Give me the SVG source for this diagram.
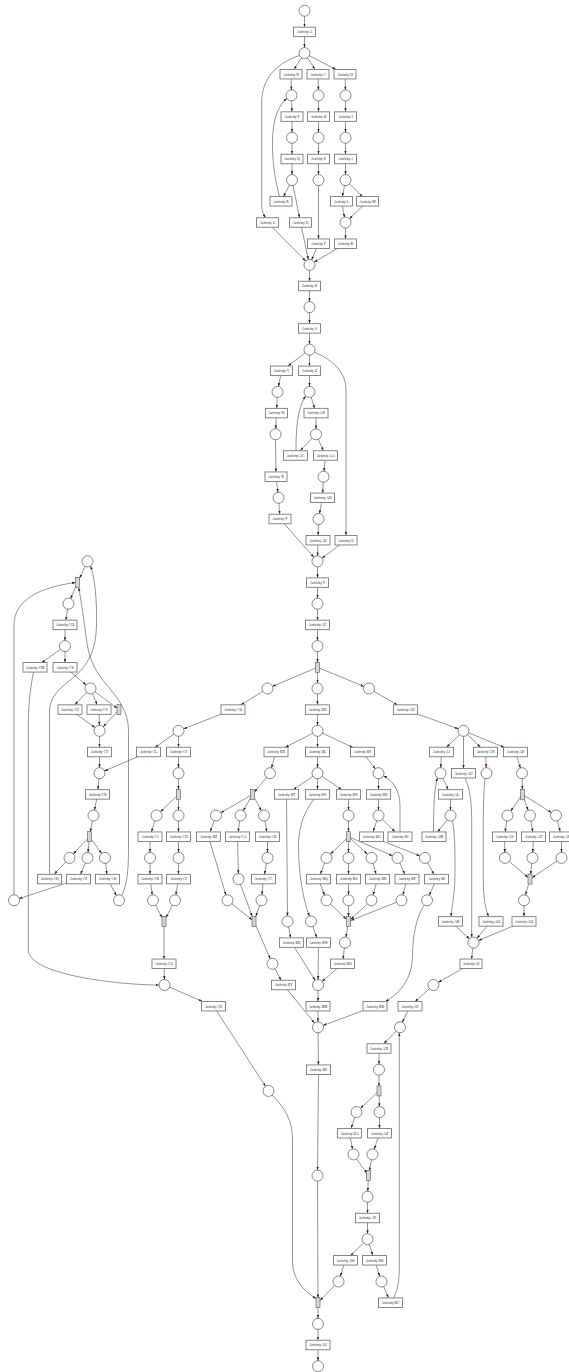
<svg xmlns="http://www.w3.org/2000/svg" width="569" height="1372" viewBox="0 0 569 1372">
<defs>
<style>
.e{fill:none;stroke:#4d4d4d;stroke-width:0.6}
.c{marker-end:url(#mc)}.b{marker-end:url(#mb)}.b5{marker-end:url(#mb5)}.b6{marker-end:url(#mb6)}.b7{marker-end:url(#mb7)}.b8{marker-end:url(#mb8)}.b9{marker-end:url(#mb9)}.b10{marker-end:url(#mb10)}.b12{marker-end:url(#mb12)}.r{marker-end:url(#mr)}.r3{marker-end:url(#mr3)}.r4{marker-end:url(#mr4)}.z{marker-end:url(#m0)}
.pl{fill:#fff;stroke:#3a3a3a;stroke-width:0.6}
.tr{fill:#fff;stroke:#7a7a7a;stroke-width:0.9}
.br{fill:#d6d6d6;stroke:#555;stroke-width:0.6}
.lb{font-family:"Liberation Serif","Times New Roman",serif;font-size:3.7px;fill:#222;text-anchor:middle}
.ah{fill:#222}
</style>
<marker id="mc" viewBox="0 0 10 10" refX="26.2" refY="5" markerWidth="3.4" markerHeight="3.4" markerUnits="userSpaceOnUse" orient="auto"><path class="ah" d="M0,1.5L10,5L0,8.5z"/></marker>
<marker id="mb" viewBox="0 0 10 10" refX="24.4" refY="5" markerWidth="3.4" markerHeight="3.4" markerUnits="userSpaceOnUse" orient="auto"><path class="ah" d="M0,1.5L10,5L0,8.5z"/></marker>
<marker id="mb5" viewBox="0 0 10 10" refX="25.9" refY="5" markerWidth="3.4" markerHeight="3.4" markerUnits="userSpaceOnUse" orient="auto"><path class="ah" d="M0,1.5L10,5L0,8.5z"/></marker>
<marker id="mb6" viewBox="0 0 10 10" refX="27.6" refY="5" markerWidth="3.4" markerHeight="3.4" markerUnits="userSpaceOnUse" orient="auto"><path class="ah" d="M0,1.5L10,5L0,8.5z"/></marker>
<marker id="mb7" viewBox="0 0 10 10" refX="30.6" refY="5" markerWidth="3.4" markerHeight="3.4" markerUnits="userSpaceOnUse" orient="auto"><path class="ah" d="M0,1.5L10,5L0,8.5z"/></marker>
<marker id="mb8" viewBox="0 0 10 10" refX="34.1" refY="5" markerWidth="3.4" markerHeight="3.4" markerUnits="userSpaceOnUse" orient="auto"><path class="ah" d="M0,1.5L10,5L0,8.5z"/></marker>
<marker id="mb9" viewBox="0 0 10 10" refX="37.1" refY="5" markerWidth="3.4" markerHeight="3.4" markerUnits="userSpaceOnUse" orient="auto"><path class="ah" d="M0,1.5L10,5L0,8.5z"/></marker>
<marker id="mb10" viewBox="0 0 10 10" refX="40.9" refY="5" markerWidth="3.4" markerHeight="3.4" markerUnits="userSpaceOnUse" orient="auto"><path class="ah" d="M0,1.5L10,5L0,8.5z"/></marker>
<marker id="mb12" viewBox="0 0 10 10" refX="45.9" refY="5" markerWidth="3.4" markerHeight="3.4" markerUnits="userSpaceOnUse" orient="auto"><path class="ah" d="M0,1.5L10,5L0,8.5z"/></marker>
<marker id="mr" viewBox="0 0 10 10" refX="17.4" refY="5" markerWidth="3.4" markerHeight="3.4" markerUnits="userSpaceOnUse" orient="auto"><path class="ah" d="M0,1.5L10,5L0,8.5z"/></marker>
<marker id="mr3" viewBox="0 0 10 10" refX="18.8" refY="5" markerWidth="3.4" markerHeight="3.4" markerUnits="userSpaceOnUse" orient="auto"><path class="ah" d="M0,1.5L10,5L0,8.5z"/></marker>
<marker id="mr4" viewBox="0 0 10 10" refX="22.6" refY="5" markerWidth="3.4" markerHeight="3.4" markerUnits="userSpaceOnUse" orient="auto"><path class="ah" d="M0,1.5L10,5L0,8.5z"/></marker>
<marker id="m0" viewBox="0 0 10 10" refX="10" refY="5" markerWidth="3.4" markerHeight="3.4" markerUnits="userSpaceOnUse" orient="auto"><path class="ah" d="M0,1.5L10,5L0,8.5z"/></marker>
</defs>
<rect width="569" height="1372" fill="#fff"/>
<g id="connectors">
<path class="e b" d="M304.5,10.7L304.5,31.9"/>
<path class="e c" d="M304.5,31.9L304.5,53.1"/>
<path class="e b6" d="M304.5,53.1L291,74.2"/>
<path class="e b6" d="M304.5,53.1L318,74.2"/>
<path class="e b10" d="M304.5,53.1L345,74.2"/>
<path class="e z" d="M299.5,55.5C280,62 263,75 261.7,100L261.7,205C261.7,211 263.5,214.5 265.5,217.7"/>
<path class="e c" d="M291,74.2L291.5,95.4"/>
<path class="e c" d="M318,74.2L318.5,95.4"/>
<path class="e c" d="M345,74.2L345.5,95.4"/>
<path class="e b" d="M291.5,95.4L292,116.6"/>
<path class="e b" d="M318.5,95.4L318.5,116.6"/>
<path class="e b" d="M345.5,95.4L345.5,116.6"/>
<path class="e c" d="M292,116.6L292,137.8"/>
<path class="e c" d="M318.5,116.6L318.5,137.8"/>
<path class="e c" d="M345.5,116.6L345.5,137.8"/>
<path class="e b" d="M292,137.8L292,159"/>
<path class="e b" d="M318.5,137.8L318.5,159"/>
<path class="e b" d="M345.5,137.8L345.5,159"/>
<path class="e c" d="M292,159L292,180.1"/>
<path class="e c" d="M318.5,159L318.5,180.1"/>
<path class="e c" d="M345.5,159L345.5,180.1"/>
<path class="e b5" d="M292,180.1L281,201.3"/>
<path class="e b" d="M292,180.1L300.5,222.5"/>
<path class="e z" d="M279.5,196.5C275,180 272,160 272.5,140C273,120 278,105 287,98.5"/>
<path class="e b" d="M318.5,180.1L318.5,243.7"/>
<path class="e b" d="M345.5,180.1L341.5,201.3"/>
<path class="e b7" d="M345.5,180.1L367.5,201.3"/>
<path class="e c" d="M341.5,201.3L345.5,222.5"/>
<path class="e c" d="M367.5,201.3L345.5,222.5"/>
<path class="e b" d="M345.5,222.5L345.5,243.7"/>
<path class="e c" d="M267.5,222.5L309.5,264.9"/>
<path class="e c" d="M300.5,222.5L309.5,264.9"/>
<path class="e c" d="M318.5,243.7L309.5,264.9"/>
<path class="e c" d="M345.5,243.7L309.5,264.9"/>
<path class="e b" d="M309.5,264.9L309.5,286"/>
<path class="e c" d="M309.5,286L309.5,307.2"/>
<path class="e b" d="M309.5,307.2L309.5,328.4"/>
<path class="e c" d="M309.5,328.4L309.5,349.6"/>
<path class="e b8" d="M309.5,349.6L281.5,370.8"/>
<path class="e b" d="M309.5,349.6L309.5,370.8"/>
<path class="e z" d="M314.5,352C330,359 346,370 346,390L346,535.4"/>
<path class="e c" d="M281.5,370.8L277.5,391.9"/>
<path class="e c" d="M309.5,370.8L309.5,391.9"/>
<path class="e b" d="M277.5,391.9L276.5,413.1"/>
<path class="e b" d="M309.5,391.9L316,413.1"/>
<path class="e c" d="M276.5,413.1L275.5,434.3"/>
<path class="e c" d="M316,413.1L316,434.3"/>
<path class="e b7" d="M316,434.3L295.5,455.5"/>
<path class="e b5" d="M316,434.3L325.5,455.5"/>
<path class="e z" d="M296,450.7C296,430 297,410 305.5,396"/>
<path class="e b" d="M275.5,434.3L276,476.7"/>
<path class="e c" d="M325.5,455.5L323.5,476.7"/>
<path class="e c" d="M276,476.7L278.5,497.8"/>
<path class="e b" d="M323.5,476.7L322.5,497.8"/>
<path class="e b" d="M278.5,497.8L280,519"/>
<path class="e c" d="M322.5,497.8L318.5,519"/>
<path class="e b" d="M318.5,519L318,540.2"/>
<path class="e c" d="M280,519L317.5,561.4"/>
<path class="e c" d="M318,540.2L317.5,561.4"/>
<path class="e c" d="M346,540.2L317.5,561.4"/>
<path class="e b" d="M317.5,561.4L317.5,582.6"/>
<path class="e c" d="M317.5,582.6L317.5,603.7"/>
<path class="e b" d="M317.5,603.7L317.5,624.9"/>
<path class="e c" d="M317.5,624.9L317.5,646.1"/>
<path class="e b" d="M317.5,646.1L317.5,667.3"/>
<path class="e c" d="M317.5,667.3L267.5,688.5"/>
<path class="e c" d="M317.5,667.3L317.5,688.5"/>
<path class="e c" d="M317.5,667.3L369,688.5"/>
<path class="e b9" d="M267.5,688.5L233,709.6"/>
<path class="e b" d="M317.5,688.5L317.5,709.6"/>
<path class="e b9" d="M369,688.5L405.5,709.6"/>
<path class="e c" d="M233,709.6L178.5,730.8"/>
<path class="e c" d="M317.5,709.6L317.5,730.8"/>
<path class="e c" d="M405.5,709.6L463.5,730.8"/>
<path class="e b" d="M87.5,561.4L77.5,582.6"/>
<path class="e c" d="M77.5,582.6L68.5,603.7"/>
<path class="e b" d="M68.5,603.7L65,624.9"/>
<path class="e c" d="M65,624.9L65,646.1"/>
<path class="e b8" d="M65,646.1L35,667.3"/>
<path class="e b" d="M65,646.1L65,667.3"/>
<path class="e c" d="M65,667.3L90.5,688.5"/>
<path class="e b7" d="M90.5,688.5L70,709.6"/>
<path class="e b5" d="M90.5,688.5L99,709.6"/>
<path class="e r" d="M90.5,688.5L119,709.6"/>
<path class="e c" d="M70,709.6L99.5,730.8"/>
<path class="e c" d="M99,709.6L99.5,730.8"/>
<path class="e c" d="M119,709.6L99.5,730.8"/>
<path class="e b" d="M99.5,730.8L99.5,752"/>
<path class="e c" d="M99.5,752L99.5,773.2"/>
<path class="e b" d="M99.5,773.2L97.5,794.4"/>
<path class="e c" d="M97.5,794.4L93.5,815.5"/>
<path class="e b" d="M93.5,815.5L89.5,836.7"/>
<path class="e c" d="M89.5,836.7L69.5,857.9"/>
<path class="e c" d="M89.5,836.7L87.5,857.9"/>
<path class="e c" d="M89.5,836.7L105,857.9"/>
<path class="e b7" d="M69.5,857.9L49.5,879.1"/>
<path class="e b5" d="M87.5,857.9L78.5,879.1"/>
<path class="e b" d="M105,857.9L107.5,879.1"/>
<path class="e c" d="M78.5,879.1L14,900.3"/>
<path class="e c" d="M107.5,879.1L119,900.3"/>
<path class="e z" d="M49.5,874.3L49.5,712C49.5,695 62,687 75,676C88,665 96,650 96.5,625C97,600 95,578 90.5,566"/>
<path class="e z" d="M122,895C127,885 128.5,870 128.5,850L128.5,730C128.5,712 118,698 106,684C96,672 89,660 86.5,640C84,620 81,600 78.7,587.6"/>
<path class="e z" d="M14,894.8L14,625C14,600 40,587 75.5,582.6"/>
<path class="e z" d="M33.5,672C30,690 28.3,705 28.3,730L28.3,950C28.3,975 120,985 159,985"/>
<path class="e b8" d="M178.5,730.8L148.5,752"/>
<path class="e b" d="M178.5,730.8L178.5,752"/>
<path class="e c" d="M148.5,752L99.5,773.2"/>
<path class="e c" d="M178.5,752L178.5,773.2"/>
<path class="e b" d="M178.5,773.2L178.5,794.4"/>
<path class="e c" d="M178.5,794.4L156.5,815.5"/>
<path class="e c" d="M178.5,794.4L178.5,815.5"/>
<path class="e b" d="M156.5,815.5L150,836.7"/>
<path class="e b" d="M178.5,815.5L178.5,836.7"/>
<path class="e c" d="M150,836.7L150,857.9"/>
<path class="e c" d="M178.5,836.7L178.5,857.9"/>
<path class="e b" d="M150,857.9L150,879.1"/>
<path class="e b" d="M178.5,857.9L178.5,879.1"/>
<path class="e c" d="M150,879.1L153,900.3"/>
<path class="e c" d="M178.5,879.1L175,900.3"/>
<path class="e r4" d="M153,900.3L164,921.4"/>
<path class="e r4" d="M175,900.3L164,921.4"/>
<path class="e b" d="M164,921.4L164,963.8"/>
<path class="e c" d="M164,963.8L164.5,985"/>
<path class="e b12" d="M164.5,985L213.5,1006.2"/>
<path class="e c" d="M213.5,1006.2L268.5,1090.9"/>
<path class="e z" d="M272,1095C285,1108 292.5,1120 292.5,1140L292.5,1262C292.5,1280 305,1292 316,1298.5"/>
<path class="e b10" d="M317.5,730.8L276,752"/>
<path class="e b" d="M317.5,730.8L317.5,752"/>
<path class="e b10" d="M317.5,730.8L362.5,752"/>
<path class="e c" d="M276,752L270,773.2"/>
<path class="e c" d="M317.5,752L317.5,773.2"/>
<path class="e c" d="M362.5,752L378.5,773.2"/>
<path class="e r3" d="M270,773.2L252.5,794.4"/>
<path class="e c" d="M252.5,794.4L216,815.5"/>
<path class="e c" d="M252.5,794.4L240.5,815.5"/>
<path class="e c" d="M252.5,794.4L264,815.5"/>
<path class="e b5" d="M216,815.5L208.5,836.7"/>
<path class="e b" d="M240.5,815.5L237.5,836.7"/>
<path class="e b" d="M264,815.5L267.5,836.7"/>
<path class="e c" d="M208.5,836.7L227.5,900.3"/>
<path class="e c" d="M237.5,836.7L238.5,879.1"/>
<path class="e c" d="M267.5,836.7L267.5,857.9"/>
<path class="e b" d="M267.5,857.9L263.5,879.1"/>
<path class="e c" d="M263.5,879.1L261.5,900.3"/>
<path class="e r" d="M227.5,900.3L254,921.4"/>
<path class="e b5" d="M238.5,879.1L254,921.4"/>
<path class="e b5" d="M261.5,900.3L254,921.4"/>
<path class="e c" d="M254,921.4L272.5,963.8"/>
<path class="e b5" d="M272.5,963.8L283.5,985"/>
<path class="e c" d="M283.5,985L318,1027.3"/>
<path class="e b8" d="M317.5,773.2L286.5,794.4"/>
<path class="e b" d="M317.5,773.2L317.5,794.4"/>
<path class="e b8" d="M317.5,773.2L348.5,794.4"/>
<path class="e c" d="M286.5,794.4L287.5,921.4"/>
<path class="e z" d="M314,799C302,815 298,830 298.5,850C299,875 303,900 309.5,916.1"/>
<path class="e b" d="M378.5,773.2L378.5,794.4"/>
<path class="e c" d="M378.5,794.4L378.5,815.5"/>
<path class="e b5" d="M378.5,815.5L371.5,836.7"/>
<path class="e b7" d="M378.5,815.5L400,836.7"/>
<path class="e z" d="M400,832L400,805C400,790 392,780 383.5,776"/>
<path class="e c" d="M371.5,836.7L425,857.9"/>
<path class="e c" d="M348.5,794.4L348.5,815.5"/>
<path class="e b" d="M348.5,815.5L348.5,836.7"/>
<path class="e c" d="M348.5,836.7L326.5,857.9"/>
<path class="e c" d="M348.5,836.7L348.5,857.9"/>
<path class="e c" d="M348.5,836.7L371.5,857.9"/>
<path class="e c" d="M348.5,836.7L397.5,857.9"/>
<path class="e b5" d="M326.5,857.9L318.5,879.1"/>
<path class="e b" d="M348.5,857.9L348.5,879.1"/>
<path class="e b5" d="M371.5,857.9L377.5,879.1"/>
<path class="e b5" d="M397.5,857.9L407,879.1"/>
<path class="e b5" d="M425,857.9L436.5,879.1"/>
<path class="e c" d="M318.5,879.1L326.5,900.3"/>
<path class="e c" d="M348.5,879.1L348.5,900.3"/>
<path class="e c" d="M377.5,879.1L371.5,900.3"/>
<path class="e c" d="M407,879.1L401.5,900.3"/>
<path class="e c" d="M436.5,879.1L427,900.3"/>
<path class="e r3" d="M326.5,900.3L348.5,921.4"/>
<path class="e b" d="M348.5,900.3L348.5,921.4"/>
<path class="e r3" d="M371.5,900.3L348.5,921.4"/>
<path class="e r" d="M401.5,900.3L348.5,921.4"/>
<path class="e c" d="M348.5,921.4L345,942.6"/>
<path class="e b" d="M345,942.6L342.5,963.8"/>
<path class="e c" d="M342.5,963.8L318,985"/>
<path class="e b" d="M287.5,921.4L291.5,942.6"/>
<path class="e b5" d="M311,921.4L318.5,942.6"/>
<path class="e c" d="M291.5,942.6L318,985"/>
<path class="e c" d="M318.5,942.6L318,985"/>
<path class="e b" d="M318,985L318,1006.2"/>
<path class="e c" d="M318,1006.2L318,1027.3"/>
<path class="e z" d="M424,905.5C418,915 413,930 412.5,955C412,980 400,993 385.5,1001.4"/>
<path class="e c" d="M375,1006.2L318,1027.3"/>
<path class="e b" d="M318,1027.3L318.5,1069.7"/>
<path class="e c" d="M318.5,1069.7L317.5,1175.6"/>
<path class="e b" d="M317.5,1175.6L318,1302.7"/>
<path class="e b7" d="M463.5,730.8L441.5,752"/>
<path class="e b" d="M463.5,730.8L463.5,773.2"/>
<path class="e b7" d="M463.5,730.8L485.5,752"/>
<path class="e b12" d="M463.5,730.8L515.5,752"/>
<path class="e c" d="M441.5,752L440.5,773.2"/>
<path class="e c" d="M485.5,752L486.5,773.2"/>
<path class="e c" d="M515.5,752L522,773.2"/>
<path class="e b5" d="M440.5,773.2L450.5,794.4"/>
<path class="e c" d="M450.5,794.4L450.5,815.5"/>
<path class="e b6" d="M450.5,815.5L434,836.7"/>
<path class="e z" d="M433.5,832C433.5,810 434,790 437.5,777.8"/>
<path class="e z" d="M452.5,820.6C455,835 455,850 455,870C455,895 452,905 451,916.6"/>
<path class="e z" d="M465,778C470,790 471.7,800 471.7,825L471.7,937.2"/>
<path class="e z" d="M485,778.5C483.5,795 483.3,810 483.3,830L483.3,880C483.3,900 486,910 488.5,916.6"/>
<path class="e b" d="M522,773.2L522.5,794.4"/>
<path class="e c" d="M522.5,794.4L507.5,815.5"/>
<path class="e c" d="M522.5,794.4L530,815.5"/>
<path class="e c" d="M522.5,794.4L556,815.5"/>
<path class="e b" d="M507.5,815.5L504.5,836.7"/>
<path class="e b" d="M530,815.5L533.5,836.7"/>
<path class="e b5" d="M556,815.5L561.5,836.7"/>
<path class="e c" d="M504.5,836.7L505,857.9"/>
<path class="e c" d="M533.5,836.7L532.5,857.9"/>
<path class="e c" d="M561.5,836.7L561.5,857.9"/>
<path class="e r" d="M505,857.9L530,879.1"/>
<path class="e b" d="M532.5,857.9L530,879.1"/>
<path class="e r" d="M561.5,857.9L530,879.1"/>
<path class="e c" d="M530,879.1L524,900.3"/>
<path class="e b" d="M524,900.3L524,921.4"/>
<path class="e c" d="M450.5,921.4L473.5,942.6"/>
<path class="e c" d="M491,921.4L473.5,942.6"/>
<path class="e c" d="M524,921.4L473.5,942.6"/>
<path class="e b" d="M473.5,942.6L471,963.8"/>
<path class="e c" d="M471,963.8L433.5,985"/>
<path class="e b7" d="M433.5,985L410,1006.2"/>
<path class="e c" d="M410,1006.2L400,1027.3"/>
<path class="e b7" d="M400,1027.3L379,1048.5"/>
<path class="e c" d="M379,1048.5L379,1069.7"/>
<path class="e b" d="M379,1069.7L379,1090.9"/>
<path class="e c" d="M379,1090.9L356.5,1112.1"/>
<path class="e c" d="M379,1090.9L379.5,1112.1"/>
<path class="e b5" d="M356.5,1112.1L349.5,1133.2"/>
<path class="e b" d="M379.5,1112.1L379.5,1133.2"/>
<path class="e c" d="M349.5,1133.2L353.5,1154.4"/>
<path class="e c" d="M379.5,1133.2L372.5,1154.4"/>
<path class="e r3" d="M353.5,1154.4L368.5,1175.6"/>
<path class="e b" d="M372.5,1154.4L368.5,1175.6"/>
<path class="e c" d="M368.5,1175.6L367.5,1196.8"/>
<path class="e b" d="M367.5,1196.8L367.5,1218"/>
<path class="e c" d="M367.5,1218L367.5,1239.1"/>
<path class="e b7" d="M367.5,1239.1L345.5,1260.3"/>
<path class="e b5" d="M367.5,1239.1L374.5,1260.3"/>
<path class="e c" d="M345.5,1260.3L338.5,1281.5"/>
<path class="e c" d="M374.5,1260.3L381.5,1281.5"/>
<path class="e b5" d="M381.5,1281.5L390.5,1302.7"/>
<path class="e z" d="M393.5,1298C398,1290 399.3,1280 399.3,1265L399.3,1032.8"/>
<path class="e r3" d="M338.5,1281.5L318,1302.7"/>
<path class="e c" d="M318,1302.7L318,1323.9"/>
<path class="e b" d="M318,1323.9L318,1345"/>
<path class="e c" d="M318,1345L318,1366.2"/>
</g>
<g id="p0"><circle class="pl" cx="304.5" cy="10.7" r="5.5"/></g>
<g id="A"><rect class="tr" x="293.5" y="27.15" width="22" height="9.5"/><text class="lb" x="304.5" y="33.2">Activity A</text></g>
<g id="p1"><circle class="pl" cx="304.5" cy="53.1" r="5.5"/></g>
<g id="N"><rect class="tr" x="280" y="69.45" width="22" height="9.5"/><text class="lb" x="291" y="75.5">Activity N</text></g>
<g id="C"><rect class="tr" x="307" y="69.45" width="22" height="9.5"/><text class="lb" x="318" y="75.5">Activity C</text></g>
<g id="H"><rect class="tr" x="334" y="69.45" width="22" height="9.5"/><text class="lb" x="345" y="75.5">Activity H</text></g>
<g id="p2"><circle class="pl" cx="291.5" cy="95.4" r="5.5"/></g>
<g id="p3"><circle class="pl" cx="318.5" cy="95.4" r="5.5"/></g>
<g id="p4"><circle class="pl" cx="345.5" cy="95.4" r="5.5"/></g>
<g id="P"><rect class="tr" x="281" y="111.85" width="22" height="9.5"/><text class="lb" x="292" y="117.9">Activity P</text></g>
<g id="D"><rect class="tr" x="307.5" y="111.85" width="22" height="9.5"/><text class="lb" x="318.5" y="117.9">Activity D</text></g>
<g id="I"><rect class="tr" x="334.5" y="111.85" width="22" height="9.5"/><text class="lb" x="345.5" y="117.9">Activity I</text></g>
<g id="p5"><circle class="pl" cx="292" cy="137.8" r="5.5"/></g>
<g id="p6"><circle class="pl" cx="318.5" cy="137.8" r="5.5"/></g>
<g id="p7"><circle class="pl" cx="345.5" cy="137.8" r="5.5"/></g>
<g id="Q"><rect class="tr" x="281" y="154.25" width="22" height="9.5"/><text class="lb" x="292" y="160.3">Activity Q</text></g>
<g id="E"><rect class="tr" x="307.5" y="154.25" width="22" height="9.5"/><text class="lb" x="318.5" y="160.3">Activity E</text></g>
<g id="J"><rect class="tr" x="334.5" y="154.25" width="22" height="9.5"/><text class="lb" x="345.5" y="160.3">Activity J</text></g>
<g id="p8"><circle class="pl" cx="292" cy="180.1" r="5.5"/></g>
<g id="p9"><circle class="pl" cx="318.5" cy="180.1" r="5.5"/></g>
<g id="p10"><circle class="pl" cx="345.5" cy="180.1" r="5.5"/></g>
<g id="R"><rect class="tr" x="270" y="196.55" width="22" height="9.5"/><text class="lb" x="281" y="202.6">Activity R</text></g>
<g id="L"><rect class="tr" x="330.5" y="196.55" width="22" height="9.5"/><text class="lb" x="341.5" y="202.6">Activity L</text></g>
<g id="M"><rect class="tr" x="356.5" y="196.55" width="22" height="9.5"/><text class="lb" x="367.5" y="202.6">Activity M</text></g>
<g id="G"><rect class="tr" x="256.5" y="217.75" width="22" height="9.5"/><text class="lb" x="267.5" y="223.8">Activity G</text></g>
<g id="O"><rect class="tr" x="289.5" y="217.75" width="22" height="9.5"/><text class="lb" x="300.5" y="223.8">Activity O</text></g>
<g id="p11"><circle class="pl" cx="345.5" cy="222.5" r="5.5"/></g>
<g id="F"><rect class="tr" x="307.5" y="238.95" width="22" height="9.5"/><text class="lb" x="318.5" y="245">Activity F</text></g>
<g id="K"><rect class="tr" x="334.5" y="238.95" width="22" height="9.5"/><text class="lb" x="345.5" y="245">Activity K</text></g>
<g id="p12"><circle class="pl" cx="309.5" cy="264.9" r="5.5"/></g>
<g id="B"><rect class="tr" x="298.5" y="281.25" width="22" height="9.5"/><text class="lb" x="309.5" y="287.3">Activity B</text></g>
<g id="p13"><circle class="pl" cx="309.5" cy="307.2" r="5.5"/></g>
<g id="S"><rect class="tr" x="298.5" y="323.65" width="22" height="9.5"/><text class="lb" x="309.5" y="329.7">Activity S</text></g>
<g id="p14"><circle class="pl" cx="309.5" cy="349.6" r="5.5"/></g>
<g id="V"><rect class="tr" x="270.5" y="366.05" width="22" height="9.5"/><text class="lb" x="281.5" y="372.1">Activity V</text></g>
<g id="Z"><rect class="tr" x="298.5" y="366.05" width="22" height="9.5"/><text class="lb" x="309.5" y="372.1">Activity Z</text></g>
<g id="p15"><circle class="pl" cx="277.5" cy="391.9" r="5.5"/></g>
<g id="p16"><circle class="pl" cx="309.5" cy="391.9" r="5.5"/></g>
<g id="W"><rect class="tr" x="265.5" y="408.35" width="22" height="9.5"/><text class="lb" x="276.5" y="414.4">Activity W</text></g>
<g id="AB"><rect class="tr" x="304" y="408.35" width="24" height="9.5"/><text class="lb" x="316" y="414.4">Activity AB</text></g>
<g id="p17"><circle class="pl" cx="275.5" cy="434.3" r="5.5"/></g>
<g id="p18"><circle class="pl" cx="316" cy="434.3" r="5.5"/></g>
<g id="AC"><rect class="tr" x="283.5" y="450.75" width="24" height="9.5"/><text class="lb" x="295.5" y="456.8">Activity AC</text></g>
<g id="AA"><rect class="tr" x="313.5" y="450.75" width="24" height="9.5"/><text class="lb" x="325.5" y="456.8">Activity AA</text></g>
<g id="X"><rect class="tr" x="265" y="471.95" width="22" height="9.5"/><text class="lb" x="276" y="478">Activity X</text></g>
<g id="p19"><circle class="pl" cx="323.5" cy="476.7" r="5.5"/></g>
<g id="p20"><circle class="pl" cx="278.5" cy="497.8" r="5.5"/></g>
<g id="AD"><rect class="tr" x="310.5" y="493.05" width="24" height="9.5"/><text class="lb" x="322.5" y="499.1">Activity AD</text></g>
<g id="Y"><rect class="tr" x="269" y="514.25" width="22" height="9.5"/><text class="lb" x="280" y="520.3">Activity Y</text></g>
<g id="p21"><circle class="pl" cx="318.5" cy="519" r="5.5"/></g>
<g id="AE"><rect class="tr" x="306" y="535.45" width="24" height="9.5"/><text class="lb" x="318" y="541.5">Activity AE</text></g>
<g id="U"><rect class="tr" x="335" y="535.45" width="22" height="9.5"/><text class="lb" x="346" y="541.5">Activity U</text></g>
<g id="p22"><circle class="pl" cx="317.5" cy="561.4" r="5.5"/></g>
<g id="T"><rect class="tr" x="306.5" y="577.85" width="22" height="9.5"/><text class="lb" x="317.5" y="583.9">Activity T</text></g>
<g id="p23"><circle class="pl" cx="317.5" cy="603.7" r="5.5"/></g>
<g id="AF"><rect class="tr" x="305.5" y="620.15" width="24" height="9.5"/><text class="lb" x="317.5" y="626.2">Activity AF</text></g>
<g id="p24"><circle class="pl" cx="317.5" cy="646.1" r="5.5"/></g>
<g id="t1"><rect class="br" x="315.5" y="662.3" width="4" height="10"/></g>
<g id="p25"><circle class="pl" cx="267.5" cy="688.5" r="5.5"/></g>
<g id="p26"><circle class="pl" cx="317.5" cy="688.5" r="5.5"/></g>
<g id="p27"><circle class="pl" cx="369" cy="688.5" r="5.5"/></g>
<g id="CD"><rect class="tr" x="221" y="704.85" width="24" height="9.5"/><text class="lb" x="233" y="710.9">Activity CD</text></g>
<g id="BD"><rect class="tr" x="305.5" y="704.85" width="24" height="9.5"/><text class="lb" x="317.5" y="710.9">Activity BD</text></g>
<g id="AH"><rect class="tr" x="393.5" y="704.85" width="24" height="9.5"/><text class="lb" x="405.5" y="710.9">Activity AH</text></g>
<g id="q0"><circle class="pl" cx="87.5" cy="561.4" r="5.5"/></g>
<g id="t2"><rect class="br" x="75.5" y="577.6" width="4" height="10"/></g>
<g id="q1"><circle class="pl" cx="68.5" cy="603.7" r="5.5"/></g>
<g id="CO"><rect class="tr" x="53" y="620.15" width="24" height="9.5"/><text class="lb" x="65" y="626.2">Activity CO</text></g>
<g id="q2"><circle class="pl" cx="65" cy="646.1" r="5.5"/></g>
<g id="CM"><rect class="tr" x="23" y="662.55" width="24" height="9.5"/><text class="lb" x="35" y="668.6">Activity CM</text></g>
<g id="CS"><rect class="tr" x="53" y="662.55" width="24" height="9.5"/><text class="lb" x="65" y="668.6">Activity CS</text></g>
<g id="q3"><circle class="pl" cx="90.5" cy="688.5" r="5.5"/></g>
<g id="CU"><rect class="tr" x="58" y="704.85" width="24" height="9.5"/><text class="lb" x="70" y="710.9">Activity CU</text></g>
<g id="CV"><rect class="tr" x="87" y="704.85" width="24" height="9.5"/><text class="lb" x="99" y="710.9">Activity CV</text></g>
<g id="t3"><rect class="br" x="117" y="704.6" width="4" height="10"/></g>
<g id="q4"><circle class="pl" cx="99.5" cy="730.8" r="5.5"/></g>
<g id="CT"><rect class="tr" x="87.5" y="747.25" width="24" height="9.5"/><text class="lb" x="99.5" y="753.3">Activity CT</text></g>
<g id="q5"><circle class="pl" cx="99.5" cy="773.2" r="5.5"/></g>
<g id="CN"><rect class="tr" x="85.5" y="789.65" width="24" height="9.5"/><text class="lb" x="97.5" y="795.7">Activity CN</text></g>
<g id="q6"><circle class="pl" cx="93.5" cy="815.5" r="5.5"/></g>
<g id="t4"><rect class="br" x="87.5" y="831.7" width="4" height="10"/></g>
<g id="q7"><circle class="pl" cx="69.5" cy="857.9" r="5.5"/></g>
<g id="q8"><circle class="pl" cx="87.5" cy="857.9" r="5.5"/></g>
<g id="q9"><circle class="pl" cx="105" cy="857.9" r="5.5"/></g>
<g id="CQ"><rect class="tr" x="37.5" y="874.35" width="24" height="9.5"/><text class="lb" x="49.5" y="880.4">Activity CQ</text></g>
<g id="CP"><rect class="tr" x="66.5" y="874.35" width="24" height="9.5"/><text class="lb" x="78.5" y="880.4">Activity CP</text></g>
<g id="CR"><rect class="tr" x="95.5" y="874.35" width="24" height="9.5"/><text class="lb" x="107.5" y="880.4">Activity CR</text></g>
<g id="q10"><circle class="pl" cx="14" cy="900.3" r="5.5"/></g>
<g id="q11"><circle class="pl" cx="119" cy="900.3" r="5.5"/></g>
<g id="r0"><circle class="pl" cx="178.5" cy="730.8" r="5.5"/></g>
<g id="CL"><rect class="tr" x="136.5" y="747.25" width="24" height="9.5"/><text class="lb" x="148.5" y="753.3">Activity CL</text></g>
<g id="CF"><rect class="tr" x="166.5" y="747.25" width="24" height="9.5"/><text class="lb" x="178.5" y="753.3">Activity CF</text></g>
<g id="r1"><circle class="pl" cx="178.5" cy="773.2" r="5.5"/></g>
<g id="t5"><rect class="br" x="176.5" y="789.4" width="4" height="10"/></g>
<g id="r2"><circle class="pl" cx="156.5" cy="815.5" r="5.5"/></g>
<g id="r3"><circle class="pl" cx="178.5" cy="815.5" r="5.5"/></g>
<g id="CJ"><rect class="tr" x="138" y="831.95" width="24" height="9.5"/><text class="lb" x="150" y="838">Activity CJ</text></g>
<g id="CH"><rect class="tr" x="166.5" y="831.95" width="24" height="9.5"/><text class="lb" x="178.5" y="838">Activity CH</text></g>
<g id="r4"><circle class="pl" cx="150" cy="857.9" r="5.5"/></g>
<g id="r5"><circle class="pl" cx="178.5" cy="857.9" r="5.5"/></g>
<g id="CK"><rect class="tr" x="138" y="874.35" width="24" height="9.5"/><text class="lb" x="150" y="880.4">Activity CK</text></g>
<g id="CI"><rect class="tr" x="166.5" y="874.35" width="24" height="9.5"/><text class="lb" x="178.5" y="880.4">Activity CI</text></g>
<g id="r6"><circle class="pl" cx="153" cy="900.3" r="5.5"/></g>
<g id="r7"><circle class="pl" cx="175" cy="900.3" r="5.5"/></g>
<g id="t6"><rect class="br" x="162" y="916.4" width="4" height="10"/></g>
<g id="CG"><rect class="tr" x="152" y="959.05" width="24" height="9.5"/><text class="lb" x="164" y="965.1">Activity CG</text></g>
<g id="r8"><circle class="pl" cx="164.5" cy="985" r="5.5"/></g>
<g id="CE"><rect class="tr" x="201.5" y="1001.45" width="24" height="9.5"/><text class="lb" x="213.5" y="1007.5">Activity CE</text></g>
<g id="r9"><circle class="pl" cx="268.5" cy="1090.9" r="5.5"/></g>
<g id="s0"><circle class="pl" cx="317.5" cy="730.8" r="5.5"/></g>
<g id="BX"><rect class="tr" x="264" y="747.25" width="24" height="9.5"/><text class="lb" x="276" y="753.3">Activity BX</text></g>
<g id="BL"><rect class="tr" x="305.5" y="747.25" width="24" height="9.5"/><text class="lb" x="317.5" y="753.3">Activity BL</text></g>
<g id="BF"><rect class="tr" x="350.5" y="747.25" width="24" height="9.5"/><text class="lb" x="362.5" y="753.3">Activity BF</text></g>
<g id="s1"><circle class="pl" cx="270" cy="773.2" r="5.5"/></g>
<g id="s2"><circle class="pl" cx="317.5" cy="773.2" r="5.5"/></g>
<g id="s3"><circle class="pl" cx="378.5" cy="773.2" r="5.5"/></g>
<g id="t7"><rect class="br" x="250.5" y="789.4" width="4" height="10"/></g>
<g id="BT"><rect class="tr" x="274.5" y="789.65" width="24" height="9.5"/><text class="lb" x="286.5" y="795.7">Activity BT</text></g>
<g id="BV"><rect class="tr" x="305.5" y="789.65" width="24" height="9.5"/><text class="lb" x="317.5" y="795.7">Activity BV</text></g>
<g id="BN"><rect class="tr" x="336.5" y="789.65" width="24" height="9.5"/><text class="lb" x="348.5" y="795.7">Activity BN</text></g>
<g id="BH"><rect class="tr" x="366.5" y="789.65" width="24" height="9.5"/><text class="lb" x="378.5" y="795.7">Activity BH</text></g>
<g id="s4"><circle class="pl" cx="216" cy="815.5" r="5.5"/></g>
<g id="s5"><circle class="pl" cx="240.5" cy="815.5" r="5.5"/></g>
<g id="s6"><circle class="pl" cx="264" cy="815.5" r="5.5"/></g>
<g id="s7"><circle class="pl" cx="348.5" cy="815.5" r="5.5"/></g>
<g id="s8"><circle class="pl" cx="378.5" cy="815.5" r="5.5"/></g>
<g id="BZ"><rect class="tr" x="196.5" y="831.95" width="24" height="9.5"/><text class="lb" x="208.5" y="838">Activity BZ</text></g>
<g id="CA"><rect class="tr" x="225.5" y="831.95" width="24" height="9.5"/><text class="lb" x="237.5" y="838">Activity CA</text></g>
<g id="CB"><rect class="tr" x="255.5" y="831.95" width="24" height="9.5"/><text class="lb" x="267.5" y="838">Activity CB</text></g>
<g id="t8"><rect class="br" x="346.5" y="831.7" width="4" height="10"/></g>
<g id="BG"><rect class="tr" x="359.5" y="831.95" width="24" height="9.5"/><text class="lb" x="371.5" y="838">Activity BG</text></g>
<g id="BJ"><rect class="tr" x="388" y="831.95" width="24" height="9.5"/><text class="lb" x="400" y="838">Activity BJ</text></g>
<g id="s9"><circle class="pl" cx="267.5" cy="857.9" r="5.5"/></g>
<g id="s10"><circle class="pl" cx="326.5" cy="857.9" r="5.5"/></g>
<g id="s11"><circle class="pl" cx="348.5" cy="857.9" r="5.5"/></g>
<g id="s12"><circle class="pl" cx="371.5" cy="857.9" r="5.5"/></g>
<g id="s13"><circle class="pl" cx="397.5" cy="857.9" r="5.5"/></g>
<g id="s14"><circle class="pl" cx="425" cy="857.9" r="5.5"/></g>
<g id="s15"><circle class="pl" cx="238.5" cy="879.1" r="5.5"/></g>
<g id="CC"><rect class="tr" x="251.5" y="874.35" width="24" height="9.5"/><text class="lb" x="263.5" y="880.4">Activity CC</text></g>
<g id="BQ"><rect class="tr" x="306.5" y="874.35" width="24" height="9.5"/><text class="lb" x="318.5" y="880.4">Activity BQ</text></g>
<g id="BS"><rect class="tr" x="336.5" y="874.35" width="24" height="9.5"/><text class="lb" x="348.5" y="880.4">Activity BS</text></g>
<g id="BR"><rect class="tr" x="365.5" y="874.35" width="24" height="9.5"/><text class="lb" x="377.5" y="880.4">Activity BR</text></g>
<g id="BP"><rect class="tr" x="395" y="874.35" width="24" height="9.5"/><text class="lb" x="407" y="880.4">Activity BP</text></g>
<g id="BI"><rect class="tr" x="424.5" y="874.35" width="24" height="9.5"/><text class="lb" x="436.5" y="880.4">Activity BI</text></g>
<g id="s16"><circle class="pl" cx="227.5" cy="900.3" r="5.5"/></g>
<g id="s17"><circle class="pl" cx="261.5" cy="900.3" r="5.5"/></g>
<g id="s18"><circle class="pl" cx="326.5" cy="900.3" r="5.5"/></g>
<g id="s19"><circle class="pl" cx="348.5" cy="900.3" r="5.5"/></g>
<g id="s20"><circle class="pl" cx="371.5" cy="900.3" r="5.5"/></g>
<g id="s21"><circle class="pl" cx="401.5" cy="900.3" r="5.5"/></g>
<g id="s22"><circle class="pl" cx="427" cy="900.3" r="5.5"/></g>
<g id="t9"><rect class="br" x="252" y="916.4" width="4" height="10"/></g>
<g id="s23"><circle class="pl" cx="287.5" cy="921.4" r="5.5"/></g>
<g id="s24"><circle class="pl" cx="311" cy="921.4" r="5.5"/></g>
<g id="t10"><rect class="br" x="346.5" y="916.4" width="4" height="10"/></g>
<g id="BU"><rect class="tr" x="279.5" y="937.85" width="24" height="9.5"/><text class="lb" x="291.5" y="943.9">Activity BU</text></g>
<g id="BW"><rect class="tr" x="306.5" y="937.85" width="24" height="9.5"/><text class="lb" x="318.5" y="943.9">Activity BW</text></g>
<g id="s25"><circle class="pl" cx="345" cy="942.6" r="5.5"/></g>
<g id="s26"><circle class="pl" cx="272.5" cy="963.8" r="5.5"/></g>
<g id="BO"><rect class="tr" x="330.5" y="959.05" width="24" height="9.5"/><text class="lb" x="342.5" y="965.1">Activity BO</text></g>
<g id="BY"><rect class="tr" x="271.5" y="980.25" width="24" height="9.5"/><text class="lb" x="283.5" y="986.3">Activity BY</text></g>
<g id="s27"><circle class="pl" cx="318" cy="985" r="5.5"/></g>
<g id="BM"><rect class="tr" x="306" y="1001.45" width="24" height="9.5"/><text class="lb" x="318" y="1007.5">Activity BM</text></g>
<g id="BK"><rect class="tr" x="363" y="1001.45" width="24" height="9.5"/><text class="lb" x="375" y="1007.5">Activity BK</text></g>
<g id="s28"><circle class="pl" cx="318" cy="1027.3" r="5.5"/></g>
<g id="BE"><rect class="tr" x="306.5" y="1064.95" width="24" height="9.5"/><text class="lb" x="318.5" y="1071">Activity BE</text></g>
<g id="s29"><circle class="pl" cx="317.5" cy="1175.6" r="5.5"/></g>
<g id="u0"><circle class="pl" cx="463.5" cy="730.8" r="5.5"/></g>
<g id="AJ"><rect class="tr" x="429.5" y="747.25" width="24" height="9.5"/><text class="lb" x="441.5" y="753.3">Activity AJ</text></g>
<g id="AN"><rect class="tr" x="473.5" y="747.25" width="24" height="9.5"/><text class="lb" x="485.5" y="753.3">Activity AN</text></g>
<g id="AP"><rect class="tr" x="503.5" y="747.25" width="24" height="9.5"/><text class="lb" x="515.5" y="753.3">Activity AP</text></g>
<g id="AU"><rect class="tr" x="451.5" y="768.45" width="24" height="9.5"/><text class="lb" x="463.5" y="774.5">Activity AU</text></g>
<g id="u1"><circle class="pl" cx="440.5" cy="773.2" r="5.5"/></g>
<g id="u2"><circle class="pl" cx="486.5" cy="773.2" r="5.5"/></g>
<g id="u3"><circle class="pl" cx="522" cy="773.2" r="5.5"/></g>
<g id="AL"><rect class="tr" x="438.5" y="789.65" width="24" height="9.5"/><text class="lb" x="450.5" y="795.7">Activity AL</text></g>
<g id="t11"><rect class="br" x="520.5" y="789.4" width="4" height="10"/></g>
<g id="u4"><circle class="pl" cx="450.5" cy="815.5" r="5.5"/></g>
<g id="u5"><circle class="pl" cx="507.5" cy="815.5" r="5.5"/></g>
<g id="u6"><circle class="pl" cx="530" cy="815.5" r="5.5"/></g>
<g id="u7"><circle class="pl" cx="556" cy="815.5" r="5.5"/></g>
<g id="AM"><rect class="tr" x="422" y="831.95" width="24" height="9.5"/><text class="lb" x="434" y="838">Activity AM</text></g>
<g id="AS"><rect class="tr" x="492.5" y="831.95" width="24" height="9.5"/><text class="lb" x="504.5" y="838">Activity AS</text></g>
<g id="AT"><rect class="tr" x="521.5" y="831.95" width="24" height="9.5"/><text class="lb" x="533.5" y="838">Activity AT</text></g>
<g id="AR"><rect class="tr" x="549.5" y="831.95" width="24" height="9.5"/><text class="lb" x="561.5" y="838">Activity AR</text></g>
<g id="u8"><circle class="pl" cx="505" cy="857.9" r="5.5"/></g>
<g id="u9"><circle class="pl" cx="532.5" cy="857.9" r="5.5"/></g>
<g id="u10"><circle class="pl" cx="561.5" cy="857.9" r="5.5"/></g>
<g id="t12"><rect class="br" x="528" y="874.1" width="4" height="10"/></g>
<g id="u11"><circle class="pl" cx="524" cy="900.3" r="5.5"/></g>
<g id="AK"><rect class="tr" x="438.5" y="916.65" width="24" height="9.5"/><text class="lb" x="450.5" y="922.7">Activity AK</text></g>
<g id="AO"><rect class="tr" x="479" y="916.65" width="24" height="9.5"/><text class="lb" x="491" y="922.7">Activity AO</text></g>
<g id="AQ"><rect class="tr" x="512" y="916.65" width="24" height="9.5"/><text class="lb" x="524" y="922.7">Activity AQ</text></g>
<g id="u12"><circle class="pl" cx="473.5" cy="942.6" r="5.5"/></g>
<g id="AI"><rect class="tr" x="460" y="959.05" width="22" height="9.5"/><text class="lb" x="471" y="965.1">Activity AI</text></g>
<g id="u13"><circle class="pl" cx="433.5" cy="985" r="5.5"/></g>
<g id="AV"><rect class="tr" x="398" y="1001.45" width="24" height="9.5"/><text class="lb" x="410" y="1007.5">Activity AV</text></g>
<g id="u14"><circle class="pl" cx="400" cy="1027.3" r="5.5"/></g>
<g id="AX"><rect class="tr" x="367" y="1043.75" width="24" height="9.5"/><text class="lb" x="379" y="1049.8">Activity AX</text></g>
<g id="u15"><circle class="pl" cx="379" cy="1069.7" r="5.5"/></g>
<g id="t13"><rect class="br" x="377" y="1085.9" width="4" height="10"/></g>
<g id="u16"><circle class="pl" cx="356.5" cy="1112.1" r="5.5"/></g>
<g id="u17"><circle class="pl" cx="379.5" cy="1112.1" r="5.5"/></g>
<g id="BA"><rect class="tr" x="337.5" y="1128.45" width="24" height="9.5"/><text class="lb" x="349.5" y="1134.5">Activity BA</text></g>
<g id="AZ"><rect class="tr" x="367.5" y="1128.45" width="24" height="9.5"/><text class="lb" x="379.5" y="1134.5">Activity AZ</text></g>
<g id="u18"><circle class="pl" cx="353.5" cy="1154.4" r="5.5"/></g>
<g id="u19"><circle class="pl" cx="372.5" cy="1154.4" r="5.5"/></g>
<g id="t14"><rect class="br" x="366.5" y="1170.6" width="4" height="10"/></g>
<g id="u20"><circle class="pl" cx="367.5" cy="1196.8" r="5.5"/></g>
<g id="AY"><rect class="tr" x="355.5" y="1213.25" width="24" height="9.5"/><text class="lb" x="367.5" y="1219.3">Activity AY</text></g>
<g id="u21"><circle class="pl" cx="367.5" cy="1239.1" r="5.5"/></g>
<g id="AW"><rect class="tr" x="333.5" y="1255.55" width="24" height="9.5"/><text class="lb" x="345.5" y="1261.6">Activity AW</text></g>
<g id="BB"><rect class="tr" x="362.5" y="1255.55" width="24" height="9.5"/><text class="lb" x="374.5" y="1261.6">Activity BB</text></g>
<g id="u22"><circle class="pl" cx="338.5" cy="1281.5" r="5.5"/></g>
<g id="u23"><circle class="pl" cx="381.5" cy="1281.5" r="5.5"/></g>
<g id="BC"><rect class="tr" x="378.5" y="1297.95" width="24" height="9.5"/><text class="lb" x="390.5" y="1304">Activity BC</text></g>
<g id="t15"><rect class="br" x="316" y="1297.7" width="4" height="10"/></g>
<g id="u24"><circle class="pl" cx="318" cy="1323.9" r="5.5"/></g>
<g id="AG"><rect class="tr" x="306" y="1340.25" width="24" height="9.5"/><text class="lb" x="318" y="1346.3">Activity AG</text></g>
<g id="u25"><circle class="pl" cx="318" cy="1366.2" r="5.5"/></g>
</svg>
